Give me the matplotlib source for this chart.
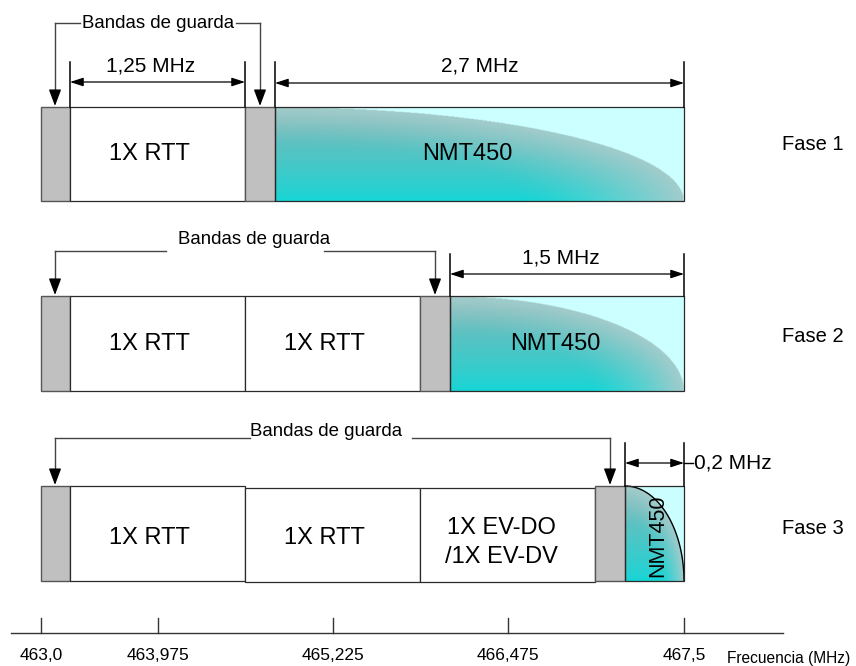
import matplotlib

matplotlib.use("Agg")

import matplotlib.pyplot as plt
import numpy as np
from matplotlib.patches import Rectangle

plt.rcParams["font.family"] = ["Liberation Sans", "DejaVu Sans"]

# -----------------------------------------------------------------------------
# Datos del esquema (unidades del diagrama, eje de frecuencia esquemático)
# -----------------------------------------------------------------------------
PHASES = ["Fase 1", "Fase 2", "Fase 3"]

# bordes de los bloques por fase y tipo de cada bloque
phase1_edges = [41, 70, 245, 275, 684]
phase1_kinds = ["guard", "rtt", "guard", "nmt"]
phase1_labels = ["", "1X RTT", "", "NMT450"]

phase2_edges = [41, 70, 245, 420, 450, 684]
phase2_kinds = ["guard", "rtt", "rtt", "guard", "nmt"]
phase2_labels = ["", "1X RTT", "1X RTT", "", "NMT450"]

phase3_edges = [41, 70, 245, 420, 595, 625, 684]
phase3_kinds = ["guard", "rtt", "rtt", "rtt", "guard", "nmt"]
phase3_labels = ["", "1X RTT", "1X RTT", "1X EV-DO\n/1X EV-DV", "", "NMT450"]

# ancho de banda indicado para NMT450 en cada fase
nmt_widths = ["2,7 MHz", "1,5 MHz", "0,2 MHz"]

# eje de frecuencia
freq_tick_pos = [41, 158, 333, 508, 684]
freq_tick_labels = ["463,0", "463,975", "465,225", "466,475", "467,5"]

# -----------------------------------------------------------------------------
# Estilo
# -----------------------------------------------------------------------------
GUARD_COLOR = "#c0c0c0"
EDGE_COLOR = "#2a2a2a"
LINE_GRAY = "#444444"
NMT_BG = (0.80, 1.0, 1.0)

phase_top = [107, 296, 486]
phase_bot = [201, 391, 581]
text_dy = [0, 0, 5]


def nmt_fill(ax, x0, x1, y_top, y_bot, outline=False):
    """Relleno degradado tipo cuarto de elipse del bloque NMT450."""
    nx, ny = 500, 160
    xs = np.linspace(0, 1, nx)
    ys = np.linspace(0, 1, ny)
    X, Y = np.meshgrid(xs, ys)
    up = 1.0 - Y
    r = np.sqrt(X ** 2 + up ** 2)
    inside = r <= 1.0

    bottom = np.array([0.08, 0.84, 0.84])
    top = np.array([0.50, 0.72, 0.72])
    edge = np.array([0.64, 0.80, 0.80])
    w = up[..., None] ** 0.8
    base = bottom[None, None, :] * (1 - w) + top[None, None, :] * w
    blend = np.clip((r - 0.6) / 0.4, 0, 1) ** 1.4
    col = base * (1 - blend[..., None]) + edge[None, None, :] * blend[..., None]
    img = np.ones((ny, nx, 4))
    img[..., :3] = np.where(inside[..., None], col, np.array(NMT_BG)[None, None, :])
    ax.imshow(img, extent=(x0, x1, y_bot, y_top), origin="upper",
              aspect="auto", interpolation="bilinear", zorder=1)
    if outline:
        t = np.linspace(0, np.pi / 2, 100)
        ax.plot(x0 + (x1 - x0) * np.sin(t), y_bot - (y_bot - y_top) * np.cos(t),
                color="black", lw=1.0, zorder=3)


def draw_phase(ax, i, edges, kinds, labels):
    y_top, y_bot = phase_top[i], phase_bot[i]
    for k, (kind, label) in enumerate(zip(kinds, labels)):
        x0, x1 = edges[k], edges[k + 1]
        yt, yb = y_top, y_bot
        if i == 2 and k in (2, 3):
            yt, yb = y_top + 2, y_bot + 1
        if kind == "guard":
            ax.add_patch(Rectangle((x0, yt), x1 - x0, yb - yt, facecolor=GUARD_COLOR,
                                   edgecolor="#555555", lw=1.0, zorder=2))
        elif kind == "rtt":
            ax.add_patch(Rectangle((x0, yt), x1 - x0, yb - yt, facecolor="white",
                                   edgecolor=EDGE_COLOR, lw=0.9, zorder=2))
            dx = -8 if "\n" not in label else -6
            ax.text((x0 + x1) / 2 + dx, (y_top + y_bot) / 2 + text_dy[i] + (4 if "\n" in label else 0),
                    label, ha="center", va="center",
                    fontsize=17, linespacing=1.42, zorder=4)
        else:
            nmt_fill(ax, x0, x1, yt, yb, outline=(i == 2))
            ax.add_patch(Rectangle((x0, yt), x1 - x0, yb - yt, facecolor="none",
                                   edgecolor=EDGE_COLOR, lw=0.9, zorder=3))
            if i == 2:
                ax.text((x0 + x1) / 2 + 3, (yt + yb) / 2 + 2, label, ha="center",
                        va="center", rotation=90, fontsize=15.5, zorder=4)
            else:
                ax.text((x0 + x1) / 2 - 12, (yt + yb) / 2, label, ha="center",
                        va="center", fontsize=17, zorder=4)
    ax.text(782, (y_top + y_bot) / 2 - 9 + 2 * i, PHASES[i], ha="left", va="center",
            fontsize=14.5)


def guard_arrow(ax, x, y0, y1):
    ax.plot([x, x], [y0, y1 - 12], color=LINE_GRAY, lw=1.0, zorder=5)
    ax.annotate("", xy=(x, y1), xytext=(x, y1 - 14),
                arrowprops=dict(arrowstyle="-|>,head_length=0.4,head_width=0.15",
                                mutation_scale=25, color="black", lw=1.0,
                                shrinkA=0, shrinkB=0), zorder=5)


def bracket(ax, x_left, x_right, y, y_tip, text_x, text_y, gap_l, gap_r):
    ax.plot([x_left, gap_l], [y, y], color=LINE_GRAY, lw=1.0)
    ax.plot([gap_r, x_right], [y, y], color=LINE_GRAY, lw=1.0)
    guard_arrow(ax, x_left, y, y_tip)
    guard_arrow(ax, x_right, y, y_tip)
    ax.text(text_x, text_y, "Bandas de guarda", ha="center", va="center", fontsize=13.4)


def dimension(ax, x0, x1, y_ext, y_box, y_arrow, label, label_xy, ha="center"):
    for x in (x0, x1):
        ax.plot([x, x], [y_ext, y_box], color="black", lw=1.1, zorder=5)
    ax.annotate("", xy=(x0, y_arrow), xytext=(x1, y_arrow),
                arrowprops=dict(arrowstyle="<|-|>,head_length=0.4,head_width=0.13",
                                mutation_scale=20, color="black", lw=0.9,
                                shrinkA=0, shrinkB=0), zorder=5)
    ax.text(label_xy[0], label_xy[1], label, ha=ha, va="center", fontsize=15)


fig = plt.figure(figsize=(8.56, 6.66), dpi=100)
ax = fig.add_axes([0, 0, 1, 1])
ax.set_xlim(0, 856)
ax.set_ylim(666, 0)
ax.axis("off")

draw_phase(ax, 0, phase1_edges, phase1_kinds, phase1_labels)
draw_phase(ax, 1, phase2_edges, phase2_kinds, phase2_labels)
draw_phase(ax, 2, phase3_edges, phase3_kinds, phase3_labels)

# bandas de guarda
bracket(ax, 55, 260, 23, 106, 158, 23, 80, 236)
bracket(ax, 55, 435, 251, 295, 254, 239, 166, 324)
bracket(ax, 55, 610, 438, 485, 326, 432, 250, 412)

# cotas
dimension(ax, 70, 245, 62, 107, 82, "1,25 MHz", (151, 66))
dimension(ax, 275, 684, 62, 107, 83, nmt_widths[0], (480, 66))
dimension(ax, 450, 684, 254, 296, 274, nmt_widths[1], (561, 258))
dimension(ax, 625, 684, 443, 486, 463, nmt_widths[2], (694, 463), ha="left")
ax.plot([684, 693], [463, 463], color="black", lw=1.0)

# eje de frecuencia
ax.plot([11, 783], [633, 633], color="#333333", lw=1.0)
for pos, lab in zip(freq_tick_pos, freq_tick_labels):
    ax.plot([pos, pos], [618, 633], color="#333333", lw=1.0)
    ax.text(pos, 656, lab, ha="center", va="center", fontsize=12.5)
ax.text(727, 658, "Frecuencia (MHz)", ha="left", va="center", fontsize=11.2)

fig.savefig("out.png", dpi=100)
